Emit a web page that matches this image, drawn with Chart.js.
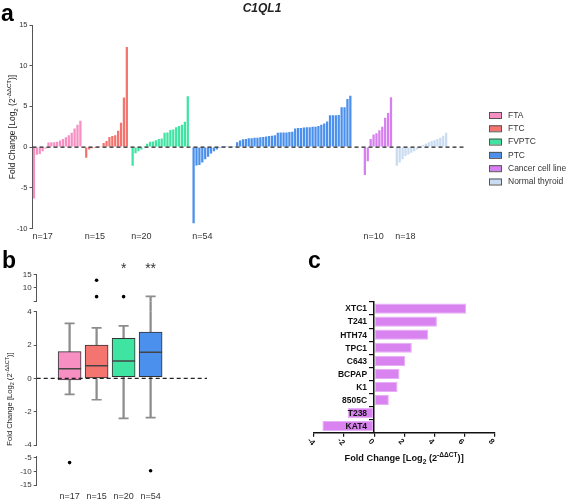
<!DOCTYPE html>
<html>
<head>
<meta charset="utf-8">
<script src="https://cdn.jsdelivr.net/npm/chart.js@4.4.1/dist/chart.umd.min.js"></script>
<style>
  body { margin: 0; background: #fff; }
  #page { position: relative; width: 567px; height: 502px; overflow: hidden; }
  canvas { position: absolute; }
  #chartA { left: 0; top: 0; }
  #chartB { left: 0; top: 245px; }
  #chartC { left: 280px; top: 245px; }
</style>
</head>
<body>
<div id="page">
  <canvas id="chartA" width="567" height="245"></canvas>
  <canvas id="chartB" width="230" height="257"></canvas>
  <canvas id="chartC" width="287" height="257"></canvas>
</div>
<script>
const FONT = '"Liberation Sans", Arial, sans-serif';

// panel a: fold change per sample, sorted within each group
const groupNames = ['FTA', 'FTC', 'FVPTC', 'PTC', 'Cancer cell line', 'Normal thyroid'];
const groupColors = ['#f78fc2', '#f47570', '#3fe4a2', '#4a90ec', '#d77ff0', '#c9dcf1'];
const groupN = ['n=17', 'n=15', 'n=20', 'n=54', 'n=10', 'n=18'];
const ftaValues = [-6.3, -0.95, -0.85, -0.5, -0.2, 0.55, 0.6, 0.6, 0.65, 0.8, 1.0, 1.2, 1.45, 1.75, 2.3, 2.75, 3.25];
const ftcValues = [-1.3, -0.3, -0.15, -0.1, 0.02, 0.05, 0.5, 0.75, 1.25, 1.35, 1.45, 2.0, 3.0, 6.1, 12.3];
const fvptcValues = [-2.3, -0.75, -0.5, -0.3, 0.05, 0.4, 0.65, 0.7, 0.85, 1.0, 1.05, 1.75, 1.8, 2.1, 2.15, 2.45, 2.6, 2.75, 3.1, 6.25];
const ptcValues = [-9.35, -2.25, -2.2, -1.9, -1.5, -1.2, -0.8, -0.5, -0.3, -0.1,
  0.02, 0.02, 0.03, 0.03, 0.05,
  0.6, 0.8, 0.95, 1.0, 1.1, 1.1, 1.15, 1.15, 1.2, 1.25, 1.3, 1.35, 1.4, 1.45, 1.75, 1.8, 1.8, 1.8, 1.85, 1.9,
  2.3, 2.35, 2.35, 2.4, 2.45, 2.45, 2.5, 2.5, 2.6, 2.75, 2.9, 3.15, 3.9, 3.9, 3.9, 3.95, 4.9, 4.9, 5.9, 6.3];
const cellLineSorted = [-3.44, -1.75, 0.98, 1.56, 1.69, 2.07, 2.51, 3.6, 4.18, 6.13];
const normalValues = [-2.3, -1.9, -1.5, -1.1, -0.9, -0.7, -0.5, -0.3, -0.1, 0.25, 0.4, 0.6, 0.75, 0.85, 1.0, 1.15, 1.4, 1.75];
const yTicksA = [-10, -5, 0, 5, 10, 15];

// panel b: box plots
const boxGroups = ['FTA', 'FTC', 'FVPTC', 'PTC'];
const boxN = ['n=17', 'n=15', 'n=20', 'n=54'];
const boxQ1 = [-0.1, 0.0, 0.1, 0.1];
const boxMedian = [0.57, 0.76, 1.04, 1.57];
const boxQ3 = [1.6, 2.0, 2.4, 2.77];
const whiskerLow = [-0.96, -1.28, -2.4, -2.36];
const whiskerHigh = [3.3, 3.03, 3.15, 6.5];
const outlierGroup = [1, 2, 2, 3, 4];
const outlierValue = [-6.8, 12.7, 6.4, 6.4, -9.8];
const sigMarks = ['', '', '*', '**'];

// panel c: cell lines
const cellLines = ['XTC1', 'T241', 'HTH74', 'TPC1', 'C643', 'BCPAP', 'K1', '8505C', 'T238', 'KAT4'];
const cellLineFold = [6.13, 4.18, 3.6, 2.51, 2.07, 1.69, 1.56, 0.98, -1.75, -3.44];

function foldTitle(ctx, cx, cy, size, weight, angle, color) {
  const parts = [['Fold Change [Log', 1, 0], ['2', 0.72, 0.3], [' (2', 1, 0], ['-ΔΔCT', 0.72, -0.42], [')]', 1, 0]];
  ctx.save();
  ctx.translate(cx, cy);
  ctx.rotate(angle);
  ctx.fillStyle = color;
  ctx.textAlign = 'left';
  ctx.textBaseline = 'alphabetic';
  let total = 0;
  parts.forEach(p => { ctx.font = `${weight} ${size * p[1]}px ${FONT}`; total += ctx.measureText(p[0]).width; });
  let x = -total / 2;
  parts.forEach(p => {
    ctx.font = `${weight} ${size * p[1]}px ${FONT}`;
    ctx.fillText(p[0], x, size * 0.36 + p[2] * size);
    x += ctx.measureText(p[0]).width;
  });
  ctx.restore();
}

function panelLetter(ctx, letter, x, y) {
  ctx.save();
  ctx.font = `bold 23px ${FONT}`;
  ctx.fillStyle = '#000';
  ctx.textAlign = 'left';
  ctx.textBaseline = 'alphabetic';
  ctx.fillText(letter, x, y);
  ctx.restore();
}

function zeroLine(chart, scaleId) {
  const ctx = chart.ctx;
  const y = chart.scales[scaleId].getPixelForValue(0);
  ctx.save();
  ctx.strokeStyle = '#222';
  ctx.lineWidth = 1.4;
  ctx.setLineDash([4, 3]);
  ctx.beginPath();
  ctx.moveTo(chart.chartArea.left, y);
  ctx.lineTo(chart.chartArea.right, y);
  ctx.stroke();
  ctx.restore();
}

// ---------- panel a ----------
const gapAfter = [1, 1, 1, 4, 1, 6];
const groupValues = [ftaValues, ftcValues, fvptcValues, ptcValues, cellLineSorted, normalValues];
const groupStart = [];
let slotCount = 0;
groupValues.forEach((vals, g) => { groupStart.push(slotCount); slotCount += vals.length + gapAfter[g]; });
const slotLabels = Array.from({length: slotCount}, (_, i) => String(i));
const datasetsA = groupValues.map((vals, g) => {
  const data = new Array(slotCount).fill(null);
  vals.forEach((v, i) => { data[groupStart[g] + i] = v; });
  return { label: groupNames[g], data, backgroundColor: groupColors[g] };
});

const decorA = {
  id: 'decorA',
  afterDatasetsDraw(chart) { zeroLine(chart, 'y'); },
  afterDraw(chart) {
    const ctx = chart.ctx;
    const xs = chart.scales.x;
    const half = (xs.getPixelForValue(1) - xs.getPixelForValue(0)) / 2;
    ctx.save();
    ctx.font = `9px ${FONT}`;
    ctx.fillStyle = '#333';
    ctx.textAlign = 'left';
    ctx.textBaseline = 'middle';
    groupN.forEach((t, g) => ctx.fillText(t, xs.getPixelForValue(groupStart[g]) - half, 237));
    // legend
    chart.data.datasets.forEach((ds, i) => {
      const y = 115 + 13.3 * i;
      ctx.fillStyle = ds.backgroundColor;
      ctx.fillRect(489, y - 3, 12.5, 6);
      ctx.strokeStyle = '#555';
      ctx.lineWidth = 1;
      ctx.strokeRect(489.5, y - 2.5, 12, 6);
      ctx.fillStyle = '#333';
      ctx.font = `8.5px ${FONT}`;
      ctx.fillText(ds.label, 508, y + 0.5);
    });
    ctx.font = `italic bold 12px ${FONT}`;
    ctx.fillStyle = '#222';
    ctx.textAlign = 'center';
    ctx.fillText('C1QL1', 262, 8.5);
    ctx.restore();
    foldTitle(ctx, 12, 127, 8.5, 'normal', -Math.PI / 2, '#222');
    panelLetter(ctx, 'a', 1, 21);
  }
};

new Chart(document.getElementById('chartA'), {
  type: 'bar',
  data: { labels: slotLabels, datasets: datasetsA },
  options: {
    responsive: false, animation: false, events: [],
    layout: { padding: { top: 25, right: 102, bottom: 16.5, left: 0 } },
    plugins: { legend: { display: false }, tooltip: { enabled: false } },
    datasets: { bar: { grouped: false, barPercentage: 0.78, categoryPercentage: 1, borderWidth: 0 } },
    scales: {
      x: { display: false },
      y: {
        min: -10, max: 15,
        afterBuildTicks: s => { s.ticks = yTicksA.map(v => ({ value: v })); },
        ticks: { font: { size: 7.5, family: FONT }, color: '#333', padding: 2 },
        grid: { drawOnChartArea: false, tickLength: 3, color: '#555' },
        border: { color: '#555' },
        afterFit: s => { s.width = 32.5; }
      }
    }
  },
  plugins: [decorA]
});

// ---------- panel b ----------
// broken axis: listed bottom to top, stacked by the library
const segments = [
  { id: 'yBot', min: -15, max: -4.5, weight: 28.7, show: true, ticks: [-15, -10, -5], labelled: [-15, -10, -5] },
  { id: 'yGap2', min: -4.5, max: -4, weight: 11.3, show: false, ticks: [], labelled: [] },
  { id: 'yMid', min: -4, max: 4, weight: 133.3, show: true, ticks: [-4, -2, 0, 2, 4], labelled: [-4, -2, 0, 2, 4] },
  { id: 'yGap1', min: 4, max: 4.5, weight: 10.1, show: false, ticks: [], labelled: [] },
  { id: 'yTop', min: 4.5, max: 15, weight: 27.3, show: true, ticks: [4.5, 10, 15], labelled: [10, 15] }
];
const scalesB = { x: { type: 'linear', min: 0.57, max: 5.3, display: false } };
segments.forEach(seg => {
  scalesB[seg.id] = {
    type: 'linear', position: 'left', stack: 'fold', stackWeight: seg.weight,
    min: seg.min, max: seg.max, display: seg.show, offset: false,
    afterBuildTicks: s => { s.ticks = seg.ticks.map(v => ({ value: v })); },
    ticks: { autoSkip: false, callback: v => (seg.labelled.includes(v) ? String(v) : ''), font: { size: 8, family: FONT }, color: '#333', padding: 2 },
    grid: { drawOnChartArea: false, tickLength: 3, color: '#555' },
    border: { color: '#555' },
    afterFit: s => { s.width = 36.7; }
  };
});

const datasetsB = [];
const whiskerStyle = { type: 'bar', backgroundColor: '#8c8c8c', barThickness: 1.6, grouped: false, order: 3 };
segments.forEach(seg => {
  datasetsB.push({ ...whiskerStyle, yAxisID: seg.id, data: boxGroups.map((g, i) => ({ x: i + 1, y: [whiskerLow[i], boxQ1[i]] })) });
  datasetsB.push({ ...whiskerStyle, yAxisID: seg.id, data: boxGroups.map((g, i) => ({ x: i + 1, y: [boxQ3[i], whiskerHigh[i]] })) });
  if (seg.show) {
    datasetsB.push({ type: 'scatter', yAxisID: seg.id, order: 2, pointStyle: 'line', pointRadius: 5, borderColor: '#8c8c8c', borderWidth: 1.6,
      data: boxGroups.map((g, i) => ({ x: i + 1, y: whiskerLow[i] })).concat(boxGroups.map((g, i) => ({ x: i + 1, y: whiskerHigh[i] }))) });
    datasetsB.push({ type: 'scatter', yAxisID: seg.id, order: 0, pointStyle: 'circle', pointRadius: 1.8, backgroundColor: '#000', borderWidth: 0,
      data: outlierValue.map((v, i) => ({ x: outlierGroup[i], y: v })) });
  }
});
datasetsB.push({ type: 'bar', yAxisID: 'yMid', order: 1, grouped: false, barThickness: 23,
  backgroundColor: groupColors.slice(0, 4), borderColor: '#333', borderWidth: 1, borderSkipped: false,
  data: boxGroups.map((g, i) => ({ x: i + 1, y: [boxQ1[i], boxQ3[i]] })) });
datasetsB.push({ type: 'scatter', yAxisID: 'yMid', order: 0, pointStyle: 'line', pointRadius: 11.5, borderColor: '#444', borderWidth: 1.5,
  data: boxGroups.map((g, i) => ({ x: i + 1, y: boxMedian[i] })) });

const decorB = {
  id: 'decorB',
  afterDatasetsDraw(chart) { zeroLine(chart, 'yMid'); },
  afterDraw(chart) {
    const ctx = chart.ctx;
    const xs = chart.scales.x;
    ctx.save();
    ctx.fillStyle = '#333';
    ctx.textAlign = 'center';
    ctx.textBaseline = 'middle';
    ctx.font = `9px ${FONT}`;
    boxN.forEach((t, i) => ctx.fillText(t, xs.getPixelForValue(i + 1), 252));
    ctx.font = `14px ${FONT}`;
    sigMarks.forEach((t, i) => ctx.fillText(t, xs.getPixelForValue(i + 1), 24));
    ctx.restore();
    foldTitle(ctx, 9, 154, 7.6, 'normal', -Math.PI / 2, '#222');
    panelLetter(ctx, 'b', 2, 23);
  }
};

new Chart(document.getElementById('chartB'), {
  type: 'bar',
  data: { datasets: datasetsB },
  options: {
    responsive: false, animation: false, events: [],
    layout: { padding: { top: 29.3, right: 23, bottom: 17, left: 0 } },
    plugins: { legend: { display: false }, tooltip: { enabled: false } },
    scales: scalesB
  },
  plugins: [decorB]
});

// ---------- panel c ----------
const decorC = {
  id: 'decorC',
  afterDraw(chart) {
    const ctx = chart.ctx;
    const xs = chart.scales.x;
    const ys = chart.scales.y;
    const axisX = xs.getPixelForValue(0);
    ctx.save();
    ctx.fillStyle = '#111';
    ctx.font = `bold 8.5px ${FONT}`;
    ctx.textAlign = 'right';
    ctx.textBaseline = 'middle';
    chart.data.labels.forEach((lab, i) => ctx.fillText(lab, axisX - 7, ys.getPixelForValue(i) + 0.5));
    ctx.font = `bold 8px ${FONT}`;
    ctx.textAlign = 'center';
    xs.ticks.forEach(t => {
      ctx.save();
      ctx.translate(xs.getPixelForValue(t.value) - 3, xs.top + 9);
      ctx.rotate(Math.PI / 4);
      ctx.fillText(String(t.value), 0, 0);
      ctx.restore();
    });
    ctx.restore();
    foldTitle(ctx, (chart.chartArea.left + chart.chartArea.right) / 2, 212.7, 9.2, 'bold', 0, '#111');
    panelLetter(ctx, 'c', 28, 23);
  }
};

new Chart(document.getElementById('chartC'), {
  type: 'bar',
  data: {
    labels: cellLines,
    datasets: [{ data: cellLineFold, backgroundColor: '#d983f1', borderColor: '#e7adf6', borderWidth: 1, borderSkipped: false,
      barPercentage: 0.78, categoryPercentage: 1 }]
  },
  options: {
    indexAxis: 'y',
    responsive: false, animation: false, events: [],
    layout: { padding: { top: 57, right: 72.7, bottom: 0, left: 34 } },
    plugins: { legend: { display: false }, tooltip: { enabled: false } },
    scales: {
      x: {
        min: -4, max: 8,
        ticks: { stepSize: 2, display: false },
        grid: { drawOnChartArea: false, tickLength: 4, color: '#111', lineWidth: 1.2 },
        border: { color: '#111', width: 1.5 },
        afterFit: s => { s.height = 69.3; }
      },
      y: {
        position: { x: 0 },
        ticks: { display: false },
        grid: { z: 1, drawOnChartArea: false, tickLength: 4, color: '#111', lineWidth: 1.2 },
        border: { z: 1, color: '#111', width: 1.5 }
      }
    }
  },
  plugins: [decorC]
});
</script>
</body>
</html>
